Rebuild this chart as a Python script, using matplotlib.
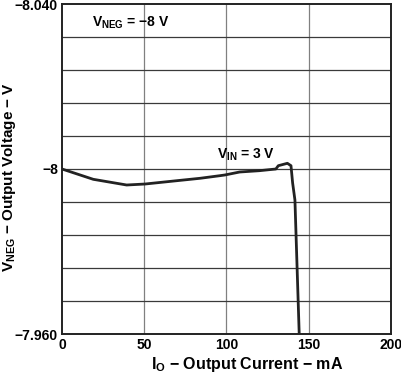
import matplotlib
matplotlib.use("Agg")
import matplotlib.pyplot as plt
import numpy as np

plt.rcParams['font.family'] = ['Liberation Sans', 'DejaVu Sans']

current_ma = [0, 19, 39.3, 50.5, 69.7, 84, 96, 99, 108, 120, 130, 131.5, 137, 139.2, 140.2, 141.6, 144.2]
vneg_v = [-8.000, -7.9975, -7.99612, -7.99636, -7.99716, -7.99775, -7.99838, -7.99855,
          -7.99927, -7.99959, -8.000, -8.0008, -8.00138, -8.0008, -7.99661, -7.99248, -7.960]

x_ticks = [0, 50, 100, 150, 200]
y_tick_labels = {-8.040: "\u22128.040", -8.000: "\u22128", -7.960: "\u22127.960"}

fig = plt.figure(figsize=(4.02, 3.74), dpi=100)
ax = fig.add_axes([62/402, 40/374, 329/402, 330/374])

ax.plot(current_ma, vneg_v, color='#222222', lw=2.0, solid_joinstyle='round', zorder=3)

ax.set_xlim(0, 200)
ax.set_ylim(-7.960, -8.040)

# grid
for xv in x_ticks[1:-1]:
    ax.axvline(xv, color='#808080', lw=0.9, zorder=1)
for i in range(1, 10):
    ax.axhline(-8.040 + i * 0.008, color='#3a3a3a', lw=0.9, zorder=1)

ax.set_xticks(x_ticks)
ax.set_xticklabels([str(t) for t in x_ticks], fontsize=10, fontweight='bold')
ax.set_yticks(list(y_tick_labels.keys()))
ax.set_yticklabels(list(y_tick_labels.values()), fontsize=10, fontweight='bold')
ax.tick_params(length=0, pad=3)
for s in ax.spines.values():
    s.set_linewidth(1.4)
    s.set_color('#222222')

ax.set_xlabel("I$_\\mathregular{O}$ \u2212 Output Current \u2212 mA",
              fontsize=11.5, fontweight='bold')
ax.set_ylabel("V$_\\mathregular{NEG}$ \u2212 Output Voltage \u2212 V",
              fontsize=11, fontweight='bold')
ax.xaxis.set_label_coords(0.564, -0.064)
ax.yaxis.set_label_coords(-0.134, 0.475)

ax.text(18, -8.0355, "V$_\\mathregular{NEG}$ = \u22128 V", fontsize=10, fontweight='bold',
        va='center', ha='left')
ax.text(94, -8.0035, "V$_\\mathregular{IN}$ = 3 V", fontsize=10, fontweight='bold',
        va='center', ha='left')

fig.savefig("out.png", dpi=100)
